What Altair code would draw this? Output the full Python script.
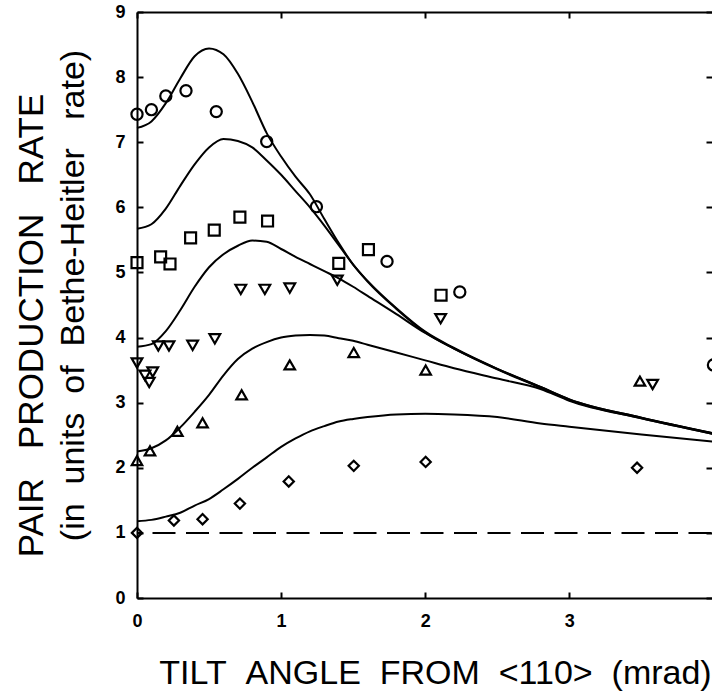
import altair as alt
import pandas as pd

# ---------------- data ----------------
curve_x = [0, 0.1, 0.2, 0.3, 0.4, 0.5, 0.6, 0.7, 0.8, 0.9, 1.0, 1.1, 1.2, 1.3,
           1.4, 1.5, 1.6, 1.8, 2.0, 2.2, 2.5, 2.8, 3.0, 3.5, 4.0]
curve_1 = [7.22, 7.32, 7.60, 7.98, 8.32, 8.44, 8.35, 8.05, 7.62, 7.14, 6.78, 6.47, 6.20,
           5.82, 5.45, 5.12, 4.87, 4.45, 4.09, 3.84, 3.52, 3.24, 3.05, 2.77, 2.53]
curve_2 = [5.67, 5.74, 5.98, 6.33, 6.66, 6.92, 7.05, 7.02, 6.92, 6.72, 6.50, 6.25, 6.00,
           5.72, 5.42, 5.12, 4.86, 4.44, 4.08, 3.83, 3.52, 3.24, 3.05, 2.77, 2.53]
curve_3 = [3.86, 3.90, 4.10, 4.42, 4.78, 5.08, 5.28, 5.41, 5.49, 5.47, 5.36, 5.24, 5.13,
           5.02, 4.91, 4.78, 4.64, 4.36, 4.07, 3.83, 3.51, 3.23, 3.04, 2.76, 2.52]
curve_4 = [2.25, 2.30, 2.42, 2.62, 2.86, 3.12, 3.42, 3.67, 3.83, 3.93, 4.00, 4.03, 4.04,
           4.03, 3.99, 3.95, 3.89, 3.77, 3.65, 3.53, 3.37, 3.21, 3.03, 2.76, 2.52]
curve_5 = [1.18, 1.20, 1.25, 1.31, 1.42, 1.52, 1.67, 1.83, 2.00, 2.16, 2.32, 2.45, 2.56,
           2.64, 2.71, 2.75, 2.78, 2.82, 2.83, 2.82, 2.78, 2.68, 2.63, 2.51, 2.40]

circle_x = [0, 0.10, 0.20, 0.34, 0.55, 0.90, 1.245, 1.735, 2.24, 4.0]
circle_y = [7.43, 7.50, 7.71, 7.79, 7.47, 7.01, 6.01, 5.17, 4.70, 3.58]
square_x = [0, 0.164, 0.229, 0.372, 0.536, 0.714, 0.906, 1.40, 1.606, 2.11]
square_y = [5.15, 5.24, 5.13, 5.53, 5.65, 5.85, 5.79, 5.14, 5.35, 4.65]
tdown_x = [0, 0.055, 0.085, 0.109, 0.148, 0.222, 0.386, 0.54, 0.72, 0.887, 1.06, 1.39, 2.107, 3.578]
tdown_y = [3.61, 3.42, 3.31, 3.47, 3.87, 3.87, 3.88, 3.98, 4.74, 4.74, 4.76, 4.88, 4.29, 3.28]
tup_x = [0, 0.09, 0.28, 0.455, 0.726, 1.06, 1.504, 2.003, 3.49]
tup_y = [2.11, 2.26, 2.56, 2.69, 3.12, 3.58, 3.77, 3.50, 3.33]
diamond_x = [0, 0.256, 0.455, 0.714, 1.053, 1.504, 2.003, 3.47]
diamond_y = [1.00, 1.19, 1.21, 1.45, 1.79, 2.03, 2.09, 2.00]

bh_x = [0, 4.0]          # Bethe-Heitler reference level
bh_y = [1.0, 1.0]

x_ticks = [0, 1, 2, 3]
y_ticks = [0, 1, 2, 3, 4, 5, 6, 7, 8, 9]

NB = "\u00a0"
title_x = "TILT" + NB * 2 + "ANGLE" + NB * 2 + "FROM" + NB * 2 + "<110>" + NB * 2 + "(mrad)"
title_y1 = "PAIR" + NB * 3 + "PRODUCTION" + NB * 3 + "RATE"
title_y2 = "(in" + NB * 2 + "units" + NB * 2 + "of" + NB * 2 + "Bethe-Heitler" + NB * 3 + "rate)"

# ---------------- tables ----------------
curves = pd.DataFrame({
    "x": curve_x * 5,
    "y": curve_1 + curve_2 + curve_3 + curve_4 + curve_5,
    "curve": sum([[c] * len(curve_x) for c in ["c1", "c2", "c3", "c4", "c5"]], []),
})
upper = pd.DataFrame({
    "x": circle_x + square_x + tdown_x,
    "y": circle_y + square_y + tdown_y,
    "series": ["circle"] * len(circle_x) + ["square"] * len(square_x) + ["tdown"] * len(tdown_x),
})
lower = pd.DataFrame({
    "x": tup_x + diamond_x,
    "y": tup_y + diamond_y,
    "series": ["tup"] * len(tup_x) + ["diamond"] * len(diamond_x),
})
bh = pd.DataFrame({"x": bh_x, "y": bh_y})

FONT = "Liberation Sans"
xs = alt.Scale(domain=[0, 3.99], nice=False, zero=False)
ys = alt.Scale(domain=[0, 9], nice=False, zero=False)
series_names = ["circle", "square", "tdown", "tup", "diamond"]
shape_scale = alt.Scale(
    domain=series_names,
    range=["circle", "square", "triangle-down", "triangle-up", "diamond"],
)
size_scale = alt.Scale(domain=series_names, range=[125, 105, 165, 165, 145])

label_style = dict(labelFont=FONT, labelFontSize=18, labelFontWeight="bold",
                   labelColor="black", labelFlush=False)

# Layer 1: model curves, main bottom/left axes with labels, frame and titles
lines = alt.Chart(curves).mark_line(color="black", strokeWidth=2, interpolate="monotone").encode(
    x=alt.X("x:Q", scale=xs, axis=alt.Axis(
        orient="bottom", values=x_ticks, format="d", grid=False,
        domain=True, domainColor="black", domainWidth=2,
        ticks=False, tickSize=0, labelPadding=14, **label_style,
        title=title_x, titleFont=FONT, titleFontSize=34, titleFontWeight="normal",
        titleColor="black", titleX=298, titleY=85, titleAlign="center",
        titleBaseline="alphabetic")),
    y=alt.Y("y:Q", scale=ys, axis=alt.Axis(
        orient="left", values=y_ticks, format="d", grid=False,
        domain=True, domainColor="black", domainWidth=2,
        ticks=False, tickSize=0, labelPadding=12, **label_style,
        title=title_y2, titleFont=FONT, titleFontSize=34, titleFontWeight="normal",
        titleColor="black", titleX=-54, titleY=283, titleAngle=270, titleAlign="center",
        titleBaseline="alphabetic")),
    detail="curve:N",
)

# Layer 2: upper data series; top frame and right inward ticks
pts_upper = alt.Chart(upper).mark_point(filled=False, color="black", strokeWidth=2.2,
                                        opacity=1).encode(
    x=alt.X("x:Q", scale=xs, axis=alt.Axis(
        orient="top", values=x_ticks, grid=False, domain=True, domainColor="black",
        domainWidth=2, ticks=False, tickSize=0, labels=False, title=None)),
    y=alt.Y("y:Q", scale=ys, axis=alt.Axis(
        orient="right", values=y_ticks, grid=False, domain=False, offset=-6,
        ticks=True, tickSize=6, tickWidth=2, tickColor="black", labels=False, title=None)),
    shape=alt.Shape("series:N", scale=shape_scale, legend=None),
    size=alt.Size("series:N", scale=size_scale, legend=None),
)

# Layer 3: lower data series; bottom and left inward ticks, main y title
pts_lower = alt.Chart(lower).mark_point(filled=False, color="black", strokeWidth=2.2,
                                        opacity=1).encode(
    x=alt.X("x:Q", scale=xs, axis=alt.Axis(
        orient="bottom", values=x_ticks, grid=False, domain=False, offset=-6,
        ticks=True, tickSize=6, tickWidth=2, tickColor="black", labels=False, title=None)),
    y=alt.Y("y:Q", scale=ys, axis=alt.Axis(
        orient="left", values=y_ticks, grid=False, domain=False, offset=-6,
        ticks=True, tickSize=6, tickWidth=2, tickColor="black", labels=False,
        title=title_y1, titleFont=FONT, titleFontSize=35, titleFontWeight="normal",
        titleColor="black", titleX=-101, titleY=313, titleAngle=270, titleAlign="center",
        titleBaseline="alphabetic")),
    shape=alt.Shape("series:N", scale=shape_scale, legend=None),
    size=alt.Size("series:N", scale=size_scale, legend=None),
)

# Layer 4: dashed Bethe-Heitler level; top inward ticks
bh_line = alt.Chart(bh).mark_line(color="black", strokeWidth=2, strokeDash=[23, 10.5],
                                  strokeDashOffset=18).encode(
    x=alt.X("x:Q", scale=xs, axis=alt.Axis(
        orient="top", values=x_ticks, grid=False, domain=False, offset=-6,
        ticks=True, tickSize=6, tickWidth=2, tickColor="black", labels=False, title=None)),
    y=alt.Y("y:Q", scale=ys, axis=None),
)

chart = alt.layer(bh_line, lines, pts_upper, pts_lower).resolve_axis(
    x="independent", y="independent"
).properties(
    width=575, height=586,
    autosize=alt.AutoSizeParams(type="none"),
    padding={"left": 137, "top": 12, "right": 0, "bottom": 95},
    background="white",
).configure_view(stroke=None)

chart.save("out.html", embed_options={"renderer": "svg", "actions": False})
